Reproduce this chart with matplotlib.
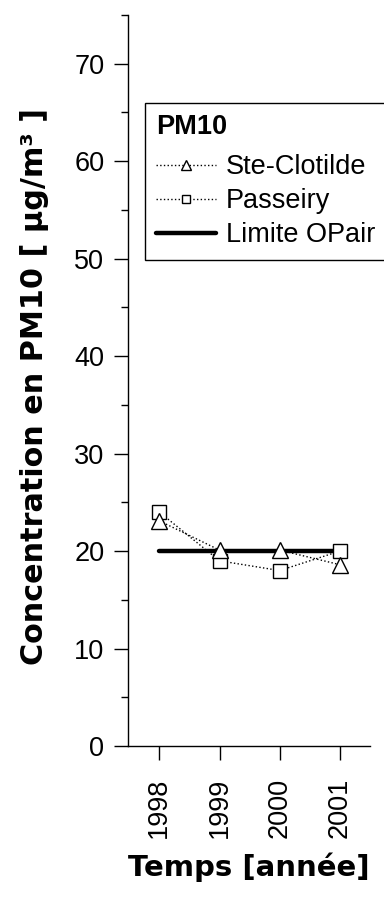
import matplotlib
matplotlib.use("Agg")
import matplotlib.pyplot as plt
from matplotlib.ticker import MultipleLocator

plt.rcParams['font.family'] = ['Liberation Sans', 'DejaVu Sans']

years = [1998, 1999, 2000, 2001]
ste_clotilde = [23.1, 20.1, 20.1, 18.6]
passeiry = [24.0, 19.0, 18.0, 20.0]
limite_opair = [20, 20, 20, 20]
year_labels = ["1998", "1999", "2000", "2001"]

fig = plt.figure(figsize=(3.84, 8.99), dpi=100)
ax = fig.add_axes([128 / 384, 1 - 746 / 899, (370 - 128) / 384, (746 - 15) / 899])

ax.plot(years, limite_opair, color='black', lw=3.2, solid_capstyle='round',
        zorder=2, label='Limite OPair')
ax.plot(years, passeiry, color='black', ls=':', lw=1.0, marker='s', ms=9.5,
        mfc='white', mec='black', mew=1.0, zorder=3, label='Passeiry')
ax.plot(years, ste_clotilde, color='black', ls=':', lw=1.0, marker='^', ms=12,
        mfc='white', mec='black', mew=1.0, zorder=4, label='Ste-Clotilde')

ax.set_xlim(1997.48, 2001.5)
ax.set_ylim(0, 75)
ax.set_xticks(years)
ax.set_xticklabels(year_labels, rotation=90, fontsize=19.5)
ax.set_yticks(range(0, 80, 10))
ax.yaxis.set_minor_locator(MultipleLocator(5))
ax.tick_params(axis='y', which='major', length=10, width=1, direction='out', labelsize=19.5, pad=7)
ax.tick_params(axis='y', which='minor', length=5, width=1, direction='out')
ax.tick_params(axis='x', which='major', length=10, width=1, direction='out', pad=13)
for s in ['top', 'right']:
    ax.spines[s].set_visible(False)
for s in ['left', 'bottom']:
    ax.spines[s].set_linewidth(1.0)

ax.set_ylabel('Concentration en PM10 [ µg/m³ ]', fontsize=21.8, fontweight='bold',
              family=['DejaVu Sans'], labelpad=18)
ax.yaxis.label.set_y(0.492)
ax.set_xlabel('Temps [année]', fontsize=21, fontweight='bold',
              family=['DejaVu Sans'], labelpad=10)

handles, labels = ax.get_legend_handles_labels()
order = [2, 1, 0]
leg = ax.legend([handles[i] for i in order], [labels[i] for i in order],
                title='PM10', title_fontproperties={'weight': 'bold', 'size': 19.5},
                fontsize=19.5, loc='upper left', bbox_to_anchor=(145 / 384, 1 - 103 / 899),
                bbox_transform=fig.transFigure, frameon=True, fancybox=False,
                edgecolor='black', framealpha=1, alignment='left',
                handlelength=2.2, handletextpad=0.36, borderpad=0.42, labelspacing=0.3,
                borderaxespad=0, markerscale=0.6)
leg._legend_box.sep += 4
leg.get_frame().set_linewidth(1.0)

fig.savefig('out.png', dpi=100)
